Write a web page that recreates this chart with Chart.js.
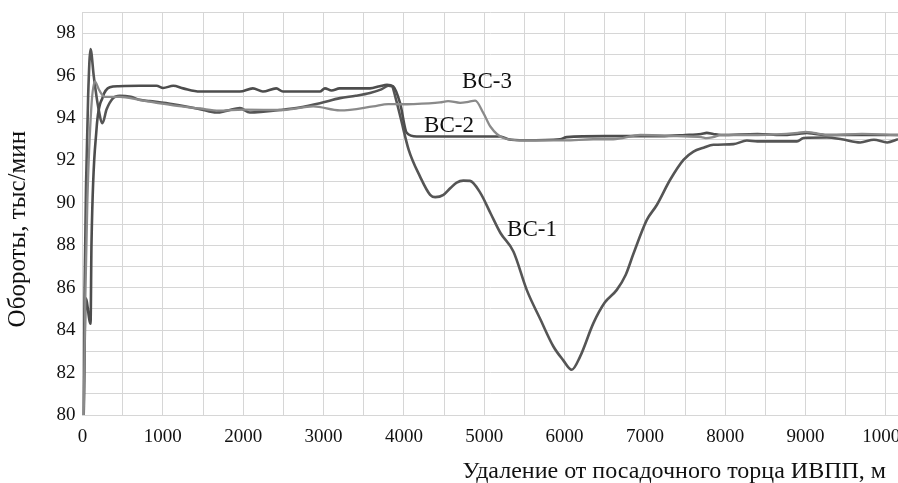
<!DOCTYPE html><html lang="ru">
<head>
<meta charset="utf-8"/>
<title>Обороты ВС-1, ВС-2, ВС-3</title>
<script src="https://cdn.jsdelivr.net/npm/chart.js"></script>
<style>
  body{margin:0;background:#fff}
  #wrap{width:898px;height:483px}
</style>
</head>
<body>
<div id="wrap"><canvas id="chart" width="898" height="483"></canvas></div>
<script>
// -------- данные --------
const bc1X = [15, 25, 45, 70, 100, 141, 194, 249, 299, 381, 464, 600, 714, 838, 1129, 1461, 1669, 1800, 1959, 2083, 2250, 2457, 2700, 2955, 3204, 3400, 3578, 3720, 3806, 3850, 3900, 3960, 4060, 4200, 4327, 4390, 4493, 4580, 4657, 4740, 4823, 4953, 5080, 5202, 5363, 5529, 5700, 5861, 5980, 6089, 6193, 6359, 6500, 6650, 6760, 6857, 7024, 7148, 7314, 7480, 7604, 7730, 7853, 8102, 8269, 8400, 8600, 8892, 8974, 9265, 9450, 9680, 9850, 10015, 10150];
const bc1Y = [80, 85.5, 91, 95, 97.25, 95.95, 94.55, 93.76, 94.4, 94.94, 95.05, 95.0, 94.86, 94.8, 94.65, 94.42, 94.26, 94.35, 94.47, 94.26, 94.3, 94.38, 94.5, 94.7, 94.94, 95.05, 95.18, 95.35, 95.52, 95.5, 94.9, 94.0, 92.5, 91.25, 90.38, 90.27, 90.38, 90.7, 90.96, 91.05, 91.04, 90.46, 89.5, 88.58, 87.71, 85.9, 84.5, 83.23, 82.6, 82.13, 82.75, 84.33, 85.3, 85.9, 86.6, 87.6, 89.2, 89.9, 91.09, 92.03, 92.42, 92.6, 92.74, 92.77, 92.94, 92.9, 92.9, 92.9, 93.06, 93.08, 93.0, 92.85, 92.98, 92.85, 93.0];

const bc2X = [15, 40, 100, 112, 174, 253, 340, 450, 714, 921, 1004, 1129, 1253, 1461, 1959, 2120, 2245, 2411, 2495, 2955, 3017, 3100, 3200, 3578, 3700, 3790, 3866, 3953, 4036, 4160, 5200, 5300, 5500, 5944, 6027, 6500, 7200, 7500, 7700, 7770, 7850, 7950, 8400, 8700, 8900, 9016, 9120, 9300, 10150];
const bc2Y = [80, 85.5, 84.3, 88.1, 93.45, 95.0, 95.45, 95.5, 95.52, 95.52, 95.42, 95.52, 95.4, 95.25, 95.25, 95.4, 95.25, 95.4, 95.25, 95.25, 95.4, 95.3, 95.4, 95.4, 95.5, 95.57, 95.5, 94.7, 93.3, 93.13, 93.13, 93.0, 92.95, 93.0, 93.1, 93.15, 93.15, 93.2, 93.25, 93.3, 93.25, 93.2, 93.25, 93.2, 93.25, 93.3, 93.25, 93.2, 93.2];

const bc3X = [15, 35, 60, 110, 153, 210, 278, 464, 714, 1129, 1461, 1700, 2000, 2500, 2872, 3204, 3619, 3806, 3953, 4113, 4450, 4550, 4700, 4785, 4888, 4990, 5076, 5238, 5490, 6000, 6357, 6606, 6943, 7400, 7700, 7770, 7850, 7950, 8400, 8900, 9000, 9100, 9300, 9700, 10150];
const bc3Y = [80, 85.5, 90, 94.5, 95.73, 95.3, 95.0, 95.0, 94.85, 94.6, 94.45, 94.35, 94.4, 94.38, 94.55, 94.36, 94.55, 94.66, 94.65, 94.66, 94.74, 94.8, 94.72, 94.75, 94.82, 94.23, 93.6, 93.06, 92.95, 92.95, 93.0, 93.0, 93.2, 93.15, 93.1, 93.05, 93.1, 93.2, 93.2, 93.3, 93.35, 93.3, 93.2, 93.25, 93.2];

// сетка по X (каждые 500 м), подписи только у тысяч
const xGrid = [0, 500, 1000, 1500, 2000, 2500, 3000, 3500, 4000, 4500, 5000, 5500, 6000, 6500, 7000, 7500, 8000, 8500, 9000, 9500, 10000];
const xLabels = ['0', '1000', '2000', '3000', '4000', '5000', '6000', '7000', '8000', '9000', '10000'];

// подписи кривых: текст, удаление, обороты
const curveNames = ['ВС-1', 'ВС-2', 'ВС-3'];
const nameX = [5595, 4562, 5035];
const nameY = [88.73, 93.64, 95.71];

const xMin = 0, xMax = 10150, yMin = 80, yMax = 99;

// -------- вспомогательное --------
const pts = (xs, ys) => xs.map((x, i) => ({x, y: ys[i]}));
const serif = '"Liberation Serif", "Times New Roman", serif';
const gridCol = '#d6d6d6';
const txtCol = '#111';

const curveLabels = {
  id: 'curveLabels',
  afterDatasetsDraw(c){
    const {ctx, scales:{x, y}} = c;
    ctx.save();
    ctx.font = '23px ' + serif;
    ctx.fillStyle = txtCol;
    ctx.textAlign = 'center';
    ctx.textBaseline = 'middle';
    curveNames.forEach((t, i) => ctx.fillText(t, x.getPixelForValue(nameX[i]), y.getPixelForValue(nameY[i])));
    ctx.restore();
  }
};

const line = (data, color, w) => ({data, borderColor: color, borderWidth: w, pointRadius: 0, fill: false, cubicInterpolationMode: 'monotone'});

new Chart(document.getElementById('chart'), {
  type: 'line',
  data: {
    datasets: [
      line(pts(bc3X, bc3Y), '#8a8a8a', 2.3),
      line(pts(bc2X, bc2Y), '#4d4d4d', 2.6),
      line(pts(bc1X, bc1Y), '#555555', 2.6)
    ]
  },
  options: {
    responsive: false,
    animation: false,
    layout: {padding: {top: 12, right: 0, left: 0, bottom: 0}},
    plugins: {legend: {display: false}, tooltip: {enabled: false}},
    scales: {
      x: {
        type: 'linear', min: xMin, max: xMax,
        afterBuildTicks: s => { s.ticks = xGrid.map(v => ({value: v})); },
        grid: {color: gridCol, drawTicks: false},
        border: {color: gridCol},
        ticks: {autoSkip: false, maxRotation: 0, padding: 11, color: txtCol,
          font: {family: serif, size: 19},
          callback: v => xLabels.includes(String(v)) ? String(v) : ''},
        title: {display: true, text: 'Удаление от посадочного торца ИВПП, м\u00a0\u00a0', align: 'end',
          color: txtCol, font: {family: serif, size: 24}, padding: {top: 0, bottom: -3}},
        afterFit: s => { s.height = 68; s.paddingLeft = 0; s.paddingRight = 0; }
      },
      y: {
        min: yMin, max: yMax,
        grid: {color: gridCol, drawTicks: false},
        border: {color: gridCol},
        ticks: {stepSize: 1, autoSkip: false, padding: 7, color: txtCol,
          font: {family: serif, size: 19},
          callback: v => v % 2 === 0 ? v : ''},
        title: {display: true, text: 'Обороты, тыс/мин\u00a0\u00a0\u00a0\u00a0\u00a0', color: txtCol,
          font: {family: serif, size: 25}, padding: {top: 3, bottom: 0}},
        afterFit: s => { s.width = 82.5; s.paddingTop = 0; s.paddingBottom = 0; }
      }
    }
  },
  plugins: [curveLabels]
});
</script>
</body>
</html>
